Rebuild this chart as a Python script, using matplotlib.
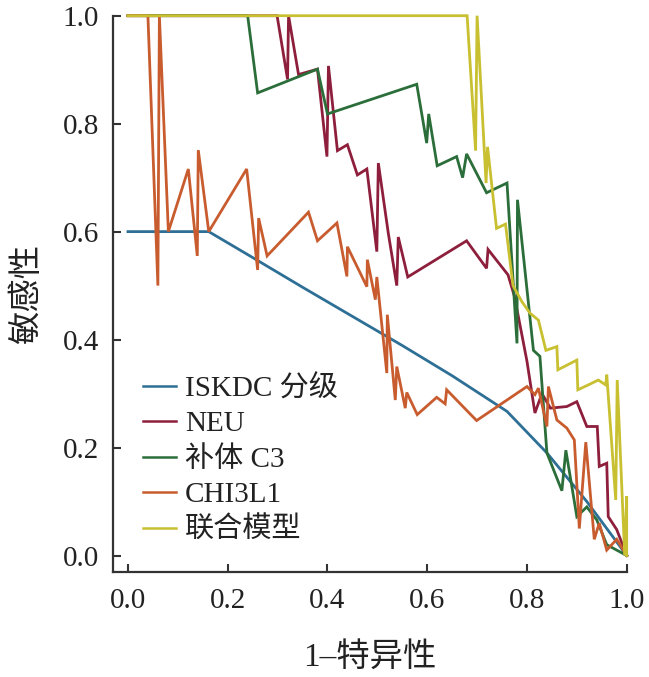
import matplotlib
matplotlib.use("Agg")
import matplotlib.pyplot as plt

# ---- data ----
labels = ["ISKDC 分级", "NEU", "补体 C3", "CHI3L1", "联合模型"]
colors = ["#2e6f96", "#8e1f3c", "#2b6e3a", "#c85c2e", "#c8c030"]

iskdc_x = [0, 0.162, 0.25, 0.35, 0.45, 0.55, 0.65, 0.76, 0.84, 0.92, 1.0]
iskdc_y = [0.6, 0.6, 0.552, 0.497, 0.443, 0.389, 0.333, 0.267, 0.19, 0.10, 0.0]

neu_x = [0, 0.299, 0.320, 0.322, 0.342, 0.380, 0.399, 0.402, 0.42, 0.44, 0.46,
         0.479, 0.499, 0.502, 0.522, 0.539, 0.542, 0.561, 0.679, 0.719, 0.722,
         0.762, 0.775, 0.80, 0.816, 0.83, 0.847, 0.88, 0.90, 0.92, 0.941,
         0.945, 0.96, 0.963, 0.98, 1.0]
neu_y = [1, 1, 0.882, 1.0, 0.891, 0.901, 0.739, 0.907, 0.75, 0.761, 0.705,
         0.716, 0.563, 0.727, 0.597, 0.50, 0.59, 0.516, 0.583, 0.532, 0.567,
         0.52, 0.48, 0.36, 0.264, 0.30, 0.273, 0.276, 0.285, 0.239, 0.239,
         0.165, 0.171, 0.072, 0.048, 0.0]

c3_x = [0, 0.24, 0.26, 0.38, 0.40, 0.579, 0.599, 0.603, 0.62, 0.659, 0.671,
        0.679, 0.719, 0.76, 0.78, 0.781, 0.813, 0.826, 0.84, 0.87, 0.878,
        0.90, 0.92, 0.94, 0.96, 1.0]
c3_y = [1, 1, 0.857, 0.901, 0.818, 0.873, 0.764, 0.818, 0.722, 0.739, 0.70,
        0.744, 0.672, 0.690, 0.393, 0.659, 0.38, 0.369, 0.19, 0.12, 0.195,
        0.072, 0.09, 0.066, 0.02, 0.0]

chi_x = [0, 0.04, 0.06, 0.063, 0.081, 0.121, 0.139, 0.141, 0.162, 0.238, 0.26,
         0.262, 0.279, 0.362, 0.38, 0.419, 0.439, 0.44, 0.479, 0.48, 0.496,
         0.499, 0.519, 0.52, 0.536, 0.539, 0.556, 0.559, 0.58, 0.619, 0.636,
         0.639, 0.699, 0.80, 0.816, 0.823, 0.84, 0.843, 0.86, 0.88, 0.895,
         0.905, 0.918, 0.935, 0.945, 0.96, 0.98, 1.0]
chi_y = [1, 1.0, 0.50, 1.0, 0.60, 0.716, 0.555, 0.751, 0.60, 0.716, 0.529,
         0.625, 0.555, 0.636, 0.583, 0.616, 0.517, 0.572, 0.498, 0.548, 0.474,
         0.516, 0.338, 0.446, 0.288, 0.35, 0.273, 0.302, 0.261, 0.293, 0.281,
         0.307, 0.25, 0.313, 0.298, 0.31, 0.239, 0.313, 0.251, 0.236, 0.214,
         0.05, 0.21, 0.03, 0.06, 0.01, 0.03, 0.0]

comb_x = [0, 0.68, 0.697, 0.70, 0.718, 0.721, 0.739, 0.757, 0.772, 0.79, 0.806,
          0.823, 0.838, 0.86, 0.862, 0.90, 0.902, 0.923, 0.943, 0.958, 0.96,
          0.978, 0.981, 0.996, 1.0, 1.0]
comb_y = [1, 1, 0.75, 1.0, 0.69, 0.757, 0.606, 0.614, 0.50, 0.47, 0.449,
          0.436, 0.38, 0.387, 0.344, 0.362, 0.307, 0.316, 0.325, 0.316, 0.335,
          0.103, 0.325, 0.0, 0.11, 0.0]

ticks = [0.0, 0.2, 0.4, 0.6, 0.8, 1.0]
tick_labels = ["0.0", "0.2", "0.4", "0.6", "0.8", "1.0"]

xs = [iskdc_x, neu_x, c3_x, chi_x, comb_x]
ys = [iskdc_y, neu_y, c3_y, chi_y, comb_y]

# ---- style ----
fam = ["Liberation Serif", "Noto Sans CJK SC", "DejaVu Sans"]
plt.rcParams["font.family"] = fam

fig = plt.figure(figsize=(6.49, 6.77), dpi=100)
ax = fig.add_axes([113 / 649, 1 - 571.7 / 677, (626.7 - 113) / 649, (571.7 - 15.7) / 677])

for x, y, c, lab in zip(xs, ys, colors, labels):
    ax.plot(x, y, color=c, lw=2.0, label=lab, clip_on=False, solid_joinstyle="miter")

ax.set_xlim(-0.03, 1.0)
ax.set_ylim(-0.03, 1.0)
ax.set_xticks(ticks)
ax.set_xticklabels(tick_labels)
ax.set_yticks(ticks)
ax.set_yticklabels(tick_labels)

for s in ["top", "right"]:
    ax.spines[s].set_visible(False)
for s in ["left", "bottom"]:
    ax.spines[s].set_color("#333333")
    ax.spines[s].set_linewidth(1.6)

ax.tick_params(direction="in", length=6, width=1.5, color="#333333",
               labelsize=21, pad=10, labelcolor="#222222")
ax.tick_params(axis="x", pad=12)

ax.set_xlabel("1–特异性", fontsize=24, labelpad=20, color="#222222")
ax.set_ylabel("敏感性", fontsize=24, labelpad=14, color="#222222")

leg = ax.legend(loc="upper left", bbox_to_anchor=(0.058, 0.354), frameon=False,
                fontsize=21, handlelength=1.15, handletextpad=0.3,
                labelspacing=0.3, borderpad=0, borderaxespad=0)
for t in leg.get_texts():
    t.set_color("#222222")
for h in leg.get_lines():
    h.set_linewidth(1.8)

fig.savefig("out.png", dpi=100)
